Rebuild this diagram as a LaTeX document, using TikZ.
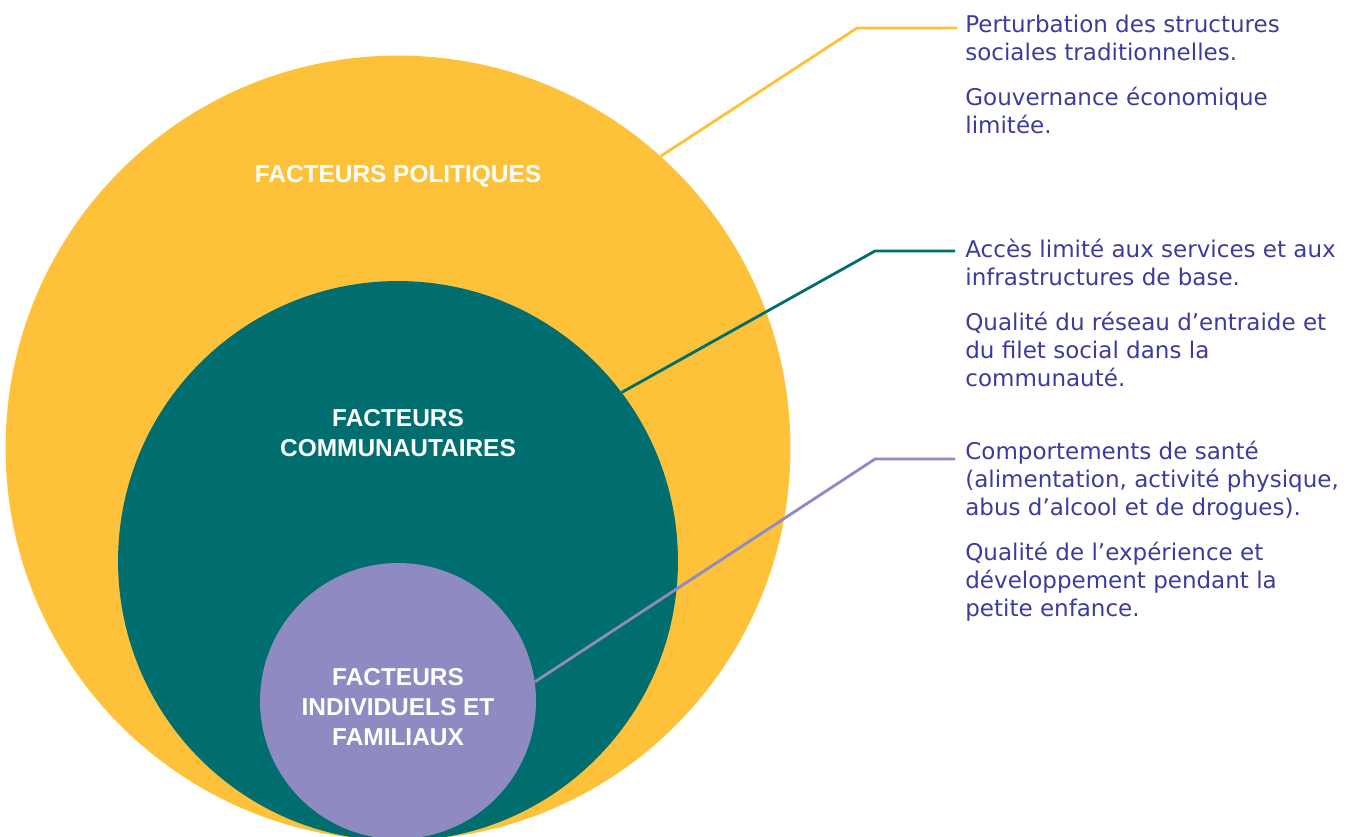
\documentclass[tikz,border=0pt]{standalone}
\usepackage{fontspec}
\setmainfont{DejaVu Sans}
\newfontfamily\titlefont{Liberation Sans}
\usetikzlibrary{positioning}
\definecolor{jaune}{RGB}{253,193,58}
\definecolor{sarcelle}{RGB}{0,110,110}
\definecolor{lavande}{RGB}{143,139,194}
\definecolor{encre}{RGB}{60,60,158}
\tikzstyle{cercle}=[circle,inner sep=0pt,draw=none]
\tikzstyle{titre}=[text=white,align=center,font=\titlefont\bfseries\fontsize{13.9}{17}\selectfont]
\tikzstyle{liste}=[text=encre,align=left,anchor=base west,inner sep=0pt,font=\fontsize{13.1}{15.9}\selectfont]
\tikzstyle{trait}=[line width=1.6pt]

\begin{document}
\begin{tikzpicture}[x=0.02cm,y=-0.02cm]
  \useasboundingbox (0,0) rectangle (1352,836);
  \clip (0,0) rectangle (1352,836);

  % les trois cercles, tangents en bas
  \node[cercle,fill=jaune,minimum size=15.7cm] (politique) at (398,448) {};
  \node[cercle,fill=sarcelle,minimum size=11.2cm] (communaute) at (398,561) {};
  \node[cercle,fill=lavande,minimum size=5.52cm] (individu) at (398,701) {};

  \node[titre] (tpol) at (398,176) {FACTEURS POLITIQUES};
  \node[titre] (tcom) at (398,433) {FACTEURS\\COMMUNAUTAIRES};
  \node[titre] (tind) at (398,707) {FACTEURS\\INDIVIDUELS ET\\FAMILIAUX};

  % textes a droite (ancre sur la derniere ligne)
  \node[liste] (lpol) at (965,133) {Perturbation des structures\\sociales traditionnelles.\\[9.6pt]Gouvernance économique\\limitée.};
  \node[liste] (lcom) at (965,386) {Accès limité aux services et aux\\infrastructures de base.\\[9.6pt]Qualité du réseau d’entraide et\\du filet social dans la\\communauté.};
  \node[liste] (lind) at (965,616) {Comportements de santé\\(alimentation, activité physique,\\abus d’alcool et de drogues).\\[9.6pt]Qualité de l’expérience et\\développement pendant la\\petite enfance.};

  % traits de renvoi
  \coordinate (coudepol) at (857,28);
  \coordinate (boutpol) at (957,28);
  \coordinate (coudecom) at (875,251);
  \coordinate (boutcom) at (955,251);
  \coordinate (coudeind) at (875,459);
  \coordinate (boutind) at (955,459);
  \draw[trait,jaune] (politique.48) -- (coudepol) -- (boutpol);
  \draw[trait,sarcelle] (communaute.37) -- (coudecom) -- (boutcom);
  \draw[trait,lavande] (individu.8) -- (coudeind) -- (boutind);
\end{tikzpicture}
\end{document}
